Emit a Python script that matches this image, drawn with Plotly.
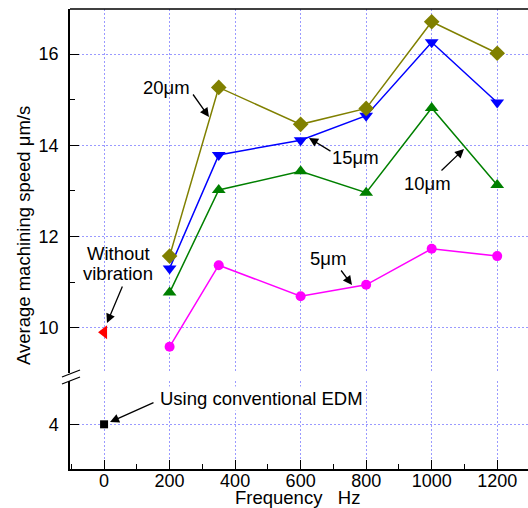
import plotly.graph_objects as go

# ---- data ----
freq = [200, 350, 600, 800, 1000, 1200]
speed_5um = [9.58, 11.37, 10.69, 10.94, 11.73, 11.57]
speed_10um = [10.77, 13.02, 13.43, 12.96, 14.82, 13.13]
speed_15um = [11.30, 13.79, 14.11, 14.65, 16.26, 14.94]
speed_20um = [11.57, 15.27, 14.46, 14.81, 16.71, 16.02]
without_vib_x = [0]
without_vib_y = [9.9]
conventional_x = [0]
conventional_y = [4.0]

x_ticks = [0, 200, 400, 600, 800, 1000, 1200]
y_upper_ticks = [10, 12, 14, 16]
y_lower_ticks = [4]

FONT = "Arial, Liberation Sans, sans-serif"
TXT = 18.5
W, H = 528, 508
L, R, T, B = 70, 0, 9, 39
PW, PH = W - L - R, H - T - B


def px(x):
    return (x - L) / PW


def py(y):
    return (H - B - y) / PH


fig = go.Figure()

series = [
    ("5μm", speed_5um, "#ff00ff", "circle", 10),
    ("10μm", speed_10um, "#008000", "triangle-up", 12),
    ("15μm", speed_15um, "#0000ff", "triangle-down", 12),
    ("20μm", speed_20um, "#808000", "diamond", 12),
]
for name, ys, col, sym, sz in series:
    fig.add_trace(go.Scatter(
        x=freq, y=ys, mode="lines+markers", name=name,
        line=dict(color=col, width=1.5),
        marker=dict(symbol=sym, size=sz, color=col, line=dict(width=0)),
        xaxis="x", yaxis="y", showlegend=False, hoverinfo="skip"))

fig.add_trace(go.Scatter(
    x=without_vib_x, y=without_vib_y, mode="markers",
    marker=dict(symbol="triangle-left", size=12, color="#ff0000", line=dict(width=0)),
    xaxis="x", yaxis="y", showlegend=False, hoverinfo="skip"))
fig.add_trace(go.Scatter(
    x=conventional_x, y=conventional_y, mode="markers",
    marker=dict(symbol="square", size=8, color="#000000", line=dict(width=0)),
    xaxis="x", yaxis="y2", showlegend=False, hoverinfo="skip"))

grid = dict(showgrid=True, gridcolor="#9a9aff", gridwidth=1, griddash="2px,2px")
common = dict(showline=True, linecolor="black", linewidth=1.5, ticks="inside",
              ticklen=9, tickwidth=1.2, tickcolor="black", zeroline=False,
              tickfont=dict(family=FONT, size=18, color="black"), **grid)

fig.update_layout(
    width=W, height=H, margin=dict(l=L, r=R, t=T, b=B),
    paper_bgcolor="white", plot_bgcolor="white",
    font=dict(family=FONT, size=TXT, color="black"),
    xaxis=dict(range=[-104, 1294], anchor="y2", tickvals=x_ticks,
               ticklabelstandoff=-5,
               minor=dict(dtick=100, tick0=0, ticks="inside", ticklen=5,
                          tickcolor="black", showgrid=False),
               **common),
    yaxis=dict(domain=[py(373), 1], range=[9.006, 16.99], anchor="x",
               tickvals=y_upper_ticks, ticklabelstandoff=6,
               minor=dict(dtick=1, tick0=0, ticks="inside", ticklen=5,
                          tickcolor="black", showgrid=False),
               **common),
    yaxis2=dict(domain=[0, py(381)], range=[3.02, 4.95], anchor="x",
                tickvals=y_lower_ticks, ticklabelstandoff=6, **common),
)

# top border and axis break marks
fig.add_shape(type="line", xref="paper", yref="paper", x0=0, x1=1, y0=1, y1=1,
              line=dict(color="black", width=1.5))
for y0, y1 in [(377, 370), (384, 377)]:
    fig.add_shape(type="line", xref="paper", yref="paper",
                  x0=px(62), x1=px(80), y0=py(y0), y1=py(y1),
                  line=dict(color="black", width=1.3))

# text labels
labels = [
    ("20μm", 166, 87, None, 1),
    ("15μm", 355, 157, None, 1),
    ("10μm", 427, 183, None, 1),
    ("5μm", 328, 258, None, 1),
    ("Without", 118, 253, None, 1),
    ("vibration", 118, 273, None, 1),
    ("Using conventional EDM", 261, 398, "white", 1),
    ("Frequency   Hz", 297, 497, None, 0),
]
for txt, x, y, bg, pad in labels:
    fig.add_annotation(text=txt, xref="paper", yref="paper", x=px(x), y=py(y),
                       showarrow=False, xanchor="center", yanchor="middle",
                       font=dict(family=FONT, size=TXT, color="black"),
                       bgcolor=bg, borderpad=pad)

# arrows (tail -> head), pixel positions
arrows = [
    ((192, 93), (209, 117)),
    ((332, 152), (309, 138)),
    ((440, 172), (464, 149)),
    ((340, 269), (352, 285)),
    ((123, 285), (107, 323)),
    ((155, 402), (110, 422)),
]
for (tx, ty), (hx, hy) in arrows:
    fig.add_annotation(text="", xref="paper", yref="paper", x=px(hx), y=py(hy),
                       ax=tx - hx, ay=ty - hy, showarrow=True, arrowhead=2,
                       arrowsize=1.4, arrowwidth=1.3, arrowcolor="black")

# y-axis title
fig.add_annotation(text="Average machining speed μm/s", xref="paper", yref="paper",
                   x=px(23), y=py(236), textangle=-90, showarrow=False,
                   xanchor="center", yanchor="middle",
                   font=dict(family=FONT, size=TXT, color="black"))

fig.write_html("out.html", config={"displayModeBar": False},
               post_script="document.body.style.margin='0px';document.body.style.padding='0px';")
